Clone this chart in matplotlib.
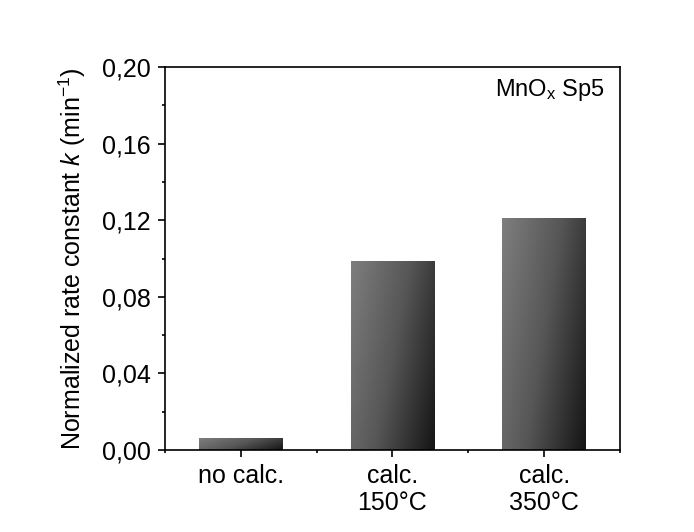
import numpy as np
import matplotlib
matplotlib.use("Agg")
import matplotlib.pyplot as plt
from matplotlib.ticker import MultipleLocator, FuncFormatter
from matplotlib.colors import LinearSegmentedColormap

plt.rcParams['font.family'] = ['Liberation Sans', 'DejaVu Sans']
plt.rcParams['mathtext.fontset'] = 'custom'
plt.rcParams['mathtext.rm'] = 'Liberation Sans'
plt.rcParams['mathtext.it'] = 'Liberation Sans:italic'

categories = ["no calc.", "calc.\n150°C", "calc.\n350°C"]
rate_constants = [0.0061, 0.0985, 0.1211]

fig = plt.figure(figsize=(6.94, 5.32), dpi=100)
ax = fig.add_axes([165/694, 1 - 450/532, (620-165)/694, (450-67)/532])

x = np.arange(1, len(categories) + 1)
bar_width = 0.55
bars = ax.bar(x, rate_constants, width=bar_width, color='none', edgecolor='none', zorder=2)

# diagonal grey gradient inside each bar
cmap = LinearSegmentedColormap.from_list("greys", ["#7e7e7e", "#565656", "#151515"])
ny, nx = 200, 100
gy, gx = np.mgrid[0:1:ny*1j, 0:1:nx*1j]
grad = 0.8 * gx + 0.35 * gy
grad = (grad - grad.min()) / (grad.max() - grad.min())
for b in bars:
    x0, y0 = b.get_x(), b.get_y()
    w, h = b.get_width(), b.get_height()
    im = ax.imshow(grad, cmap=cmap, extent=[x0, x0 + w, y0, y0 + h],
                   origin='upper', aspect='auto', zorder=2, interpolation='bilinear')
    im.set_clip_path(b)

ax.set_xlim(0.5, 3.5)
ax.set_ylim(0, 0.2)
ax.set_xticks(x)
ax.set_xticklabels(categories, fontsize=18, linespacing=1.15)
ax.xaxis.set_minor_locator(MultipleLocator(1.0, offset=0.5))
ax.yaxis.set_major_locator(MultipleLocator(0.04))
ax.yaxis.set_minor_locator(MultipleLocator(0.02))
ax.yaxis.set_major_formatter(FuncFormatter(lambda v, p: f"{v:.2f}".replace('.', ',')))
ax.tick_params(axis='both', which='major', direction='out', length=5, width=1.2,
               labelsize=18, pad=5, top=False, right=False)
ax.tick_params(axis='both', which='minor', direction='out', length=2.5, width=1.2,
               top=False, right=False)
for s in ax.spines.values():
    s.set_linewidth(1.2)

ax.set_ylabel("Normalized rate constant $k$ (min$^{-1}$)", fontsize=18, labelpad=10)
ax.text(0.967, 0.975, "MnO$_\\mathregular{x}$ Sp5", transform=ax.transAxes,
        ha='right', va='top', fontsize=17)

fig.savefig("out.png", dpi=100)
